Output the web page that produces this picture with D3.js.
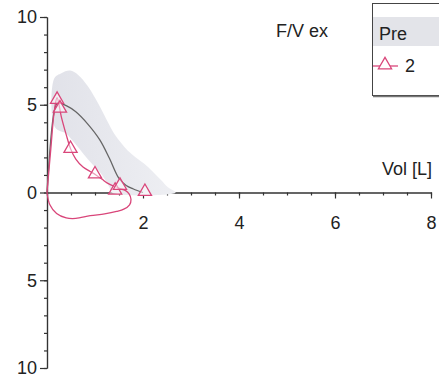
<!DOCTYPE html>
<html>
<head>
<meta charset="utf-8">
<script src="https://cdn.jsdelivr.net/npm/d3@7"></script>
<style>
  body { margin: 0; background: #fff; }
  text { font-family: "Liberation Sans", Arial, sans-serif; fill: #222; }
</style>
</head>
<body>
<div id="chart"></div>
<script>
// measured expiratory + inspiratory loop (Vol [L], Flow [L/s])
const measuredVol  = [0, 0.08, 0.15, 0.21, 0.3, 0.4, 0.49, 0.6, 0.75, 0.9, 1.02, 1.15, 1.25, 1.4, 1.52, 1.63, 1.71, 1.75, 1.72, 1.6, 1.45, 1.2, 0.9, 0.6, 0.4, 0.2, 0.06, 0];
const measuredFlow = [0, 2.5, 4.6, 5.4, 4.3, 3.3, 2.5, 1.9, 1.45, 1.2, 1.0, 0.75, 0.55, 0.35, 0.22, 0.12, -0.08, -0.4, -0.7, -0.95, -1.08, -1.22, -1.32, -1.48, -1.45, -1.2, -0.7, 0];

// triangle markers on the measured curve
const markerVol  = [0.21, 0.27, 0.49, 1.0, 1.42, 1.52, 2.04];
const markerFlow = [5.3, 4.8, 2.5, 1.05, 0.12, 0.4, 0.05];

// predicted curve
const predVol  = [0, 0.15, 0.22, 0.4, 0.6, 0.85, 1.1, 1.3, 1.5, 1.65, 1.8, 2.0];
const predFlow = [0, 4.6, 5.1, 4.95, 4.6, 3.9, 3.0, 1.95, 0.8, 0.4, 0.2, 0];

// predicted range (upper edge then lower edge)
const bandVol  = [0.15, 0.3, 0.48, 0.65, 0.84, 1.0, 1.12, 1.25, 1.4, 1.55, 1.68, 1.85, 2.02, 2.2, 2.38, 2.52, 2.68, 1.35, 1.3, 1.12, 0.95, 0.76, 0.55, 0.4, 0.17];
const bandFlow = [6.5, 6.8, 6.95, 6.7, 6.1, 5.4, 4.8, 4.1, 3.35, 2.8, 2.4, 2.0, 1.65, 1.2, 0.7, 0.3, 0, 0, 0.3, 1.1, 1.6, 2.2, 2.9, 3.35, 3.7];

const xMinor = d3.range(0, 8.01, 0.5);
const xMajor = [2, 4, 6, 8];
const yMinor = d3.range(-10, 11, 1);
const yMajor = [-10, -5, 0, 5, 10];

const width = 439, height = 381;
const red = '#d9467a';

const svg = d3.select('#chart').append('svg')
    .attr('width', width)
    .attr('height', height);

const x = d3.scaleLinear().domain([0, 8]).range([47, 431]);
const y = d3.scaleLinear().domain([-10, 10]).range([368, 17]);

const zip = (a, b) => a.map((v, i) => [v, b[i]]);

// axes
const yMinorAxis = d3.axisLeft(y).tickValues(yMinor).tickSize(3).tickSizeOuter(0).tickFormat('');
const yMajorAxis = d3.axisLeft(y).tickValues(yMajor).tickSize(7).tickSizeOuter(0).tickPadding(3)
    .tickFormat(d => Math.abs(d));
const xMinorAxis = d3.axisBottom(x).tickValues(xMinor).tickSize(3).tickSizeOuter(0).tickFormat('');
const xMajorAxis = d3.axisBottom(x).tickValues(xMajor).tickSize(6).tickSizeOuter(0).tickPadding(18);

function styleAxis(g) {
    g.selectAll('path, line').attr('stroke', '#333').attr('stroke-width', 1.2);
    g.selectAll('text').style('font-size', '18px').attr('fill', '#222')
        .style('font-family', '"Liberation Sans", Arial, sans-serif');
}

svg.append('g').attr('transform', 'translate(' + x(0) + ',0)').call(yMinorAxis).call(styleAxis);
svg.append('g').attr('transform', 'translate(' + x(0) + ',0)').call(yMajorAxis).call(styleAxis);
svg.append('g').attr('transform', 'translate(0,' + y(0) + ')').call(xMinorAxis).call(styleAxis);
svg.append('g').attr('transform', 'translate(0,' + y(0) + ')').call(xMajorAxis).call(styleAxis);

// predicted range band
const grad = svg.append('defs').append('linearGradient')
    .attr('id', 'bandGrad').attr('x1', '0%').attr('x2', '100%').attr('y1', '0%').attr('y2', '0%');
grad.append('stop').attr('offset', '0%').attr('stop-color', '#e1e2e9');
grad.append('stop').attr('offset', '100%').attr('stop-color', '#eeeff3');

const bandLine = d3.line().x(d => x(d[0])).y(d => y(d[1])).curve(d3.curveCatmullRomClosed.alpha(0.5));
svg.append('path')
    .datum(zip(bandVol, bandFlow))
    .attr('d', bandLine)
    .attr('fill', 'url(#bandGrad)');

// predicted curve
const line = d3.line().x(d => x(d[0])).y(d => y(d[1])).curve(d3.curveCatmullRom.alpha(0.5));
svg.append('path')
    .datum(zip(predVol, predFlow))
    .attr('d', line)
    .attr('fill', 'none')
    .attr('stroke', '#666')
    .attr('stroke-width', 1.3);

// measured loop
svg.append('path')
    .datum(zip(measuredVol, measuredFlow))
    .attr('d', line)
    .attr('fill', 'none')
    .attr('stroke', red)
    .attr('stroke-width', 1.3);

const tri = d3.symbol(d3.symbolTriangle, 75);
svg.selectAll('.marker')
    .data(zip(markerVol, markerFlow))
    .enter().append('path')
    .attr('class', 'marker')
    .attr('d', tri)
    .attr('transform', d => 'translate(' + x(d[0]) + ',' + y(d[1]) + ')')
    .attr('fill', 'rgba(255,255,255,0.5)')
    .attr('stroke', red)
    .attr('stroke-width', 1.3);

// titles
svg.append('text').attr('x', 276).attr('y', 37).style('font-size', '18px').text('F/V ex');
svg.append('text').attr('x', 432).attr('y', 175).attr('text-anchor', 'end')
    .style('font-size', '18px').text('Vol [L]');

// legend
const lg = svg.append('g');
lg.append('rect').attr('x', 372.5).attr('y', 3.5).attr('width', 80).attr('height', 92)
    .attr('fill', '#fff').attr('stroke', '#444').attr('stroke-width', 1);
lg.append('line').attr('x1', 373).attr('x2', 452).attr('y1', 96.5).attr('y2', 96.5)
    .attr('stroke', '#777').attr('stroke-width', 1.5);
lg.append('rect').attr('x', 373).attr('y', 17).attr('width', 80).attr('height', 29).attr('fill', '#e3e4e9');
lg.append('text').attr('x', 379).attr('y', 40).style('font-size', '18px').text('Pre');
lg.append('line').attr('x1', 373).attr('x2', 398).attr('y1', 66).attr('y2', 66)
    .attr('stroke', red).attr('stroke-width', 1.3);
lg.append('path').attr('d', tri).attr('transform', 'translate(385,65)')
    .attr('fill', '#fff').attr('stroke', red).attr('stroke-width', 1.3);
lg.append('text').attr('x', 405).attr('y', 72).style('font-size', '18px').text('2');
</script>
</body>
</html>
